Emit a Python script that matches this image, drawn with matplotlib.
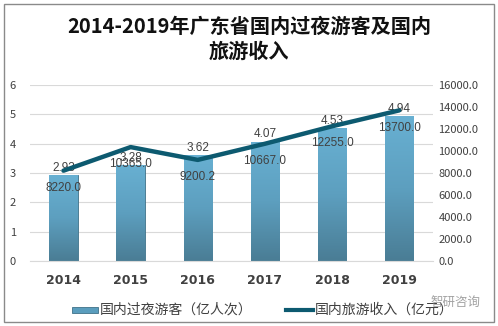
import numpy as np
import matplotlib.pyplot as plt
from matplotlib.patches import Rectangle
from matplotlib.colors import LinearSegmentedColormap

plt.rcParams['font.family'] = ['Noto Sans CJK SC', 'DejaVu Sans']

# 数据
years = ['2014', '2015', '2016', '2017', '2018', '2019']
visitors = [2.93, 3.28, 3.62, 4.07, 4.53, 4.94]            # 国内过夜游客（亿人次）
income = [8220.0, 10365.0, 9200.2, 10667.0, 12255.0, 13700.0]  # 国内旅游收入（亿元）
left_ticks = [0, 1, 2, 3, 4, 5, 6]
right_ticks = [0, 2000, 4000, 6000, 8000, 10000, 12000, 14000, 16000]

bar_color = '#5a9dbd'
line_color = '#0d5a70'
txt = '#404040'

fig = plt.figure(figsize=(4.98, 3.26), dpi=100)
fig.patches.append(Rectangle((4 / 498, 4 / 326), 490 / 498, 318 / 326, transform=fig.transFigure,
                             fill=False, edgecolor='#8a8a8a', linewidth=1.0))

ax = fig.add_axes([0.060, 0.199, 0.809, 0.540])
ax2 = ax.twinx()
ax.set_zorder(1)
ax2.set_zorder(2)
ax.patch.set_visible(False)

x = np.arange(len(years))
w = 0.42
bars = ax.bar(x, visitors, width=w, color=bar_color, edgecolor='#3f7289', linewidth=0.6, zorder=2)

# 渐变填充
cmap = LinearSegmentedColormap.from_list('g', ['#4a7d95', '#5d9fbf', '#68b0d2'])
grad = np.linspace(0, 1, 100).reshape(-1, 1)
for b in bars:
    x0, y0 = b.get_x(), b.get_y()
    im = ax.imshow(grad, cmap=cmap, origin='lower', aspect='auto',
                   extent=[x0, x0 + b.get_width(), y0, y0 + b.get_height()], zorder=2.1)
    im.set_clip_path(b)

ax.set_xlim(-0.5, len(years) - 0.5)
ax.set_ylim(0, 6)
ax.set_yticks(left_ticks)
ax.set_xticks(x)
ax.set_xticklabels(years, fontsize=9, fontweight='bold', color=txt, family='DejaVu Sans')
ax.tick_params(axis='x', length=0, pad=9)
ax.tick_params(axis='y', length=0, labelsize=8, colors=txt, pad=10)
ax.grid(axis='y', color='#d9d9d9', linewidth=0.8)
ax.set_axisbelow(True)
for s in ax.spines.values():
    s.set_visible(False)
ax.spines['bottom'].set_visible(True)
ax.spines['bottom'].set_color('#d9d9d9')

for xi, v in zip(x, visitors):
    ax.annotate(f'{v:.2f}', (xi, v), xytext=(0, 1), textcoords='offset points',
                ha='center', va='bottom', fontsize=8.5, color=txt, family='Liberation Sans', zorder=5)

ax2.plot(x, income, color=line_color, linewidth=3.2, solid_capstyle='round', zorder=3)
ax2.set_ylim(0, 16000)
ax2.set_yticks(right_ticks)
ax2.set_yticklabels([f'{t:.1f}' for t in right_ticks])
ax2.tick_params(axis='y', length=0, labelsize=8, colors=txt, pad=4)
for s in ax2.spines.values():
    s.set_visible(False)
for xi, v in zip(x, income):
    ax2.annotate(f'{v:.1f}', (xi, v), xytext=(0, -8), textcoords='offset points',
                 ha='center', va='top', fontsize=8.5, color=txt, family='Liberation Sans', zorder=5)

fig.text(0.5, 1 - 39 / 326, '2014-2019年广东省国内过夜游客及国内\n旅游收入', ha='center', va='center',
         fontsize=14.5, fontweight='bold', color='#111111', linespacing=1.25)

# 图例
fig.patches.append(Rectangle((72 / 498, 1 - 313 / 326), 26 / 498, 6 / 326, transform=fig.transFigure,
                             facecolor=bar_color, edgecolor='#3f7289', linewidth=0.6))
fig.text(100 / 498, 1 - 310 / 326, '国内过夜游客（亿人次）', ha='left', va='center', fontsize=10, color=txt)
fig.lines.append(plt.Line2D([286 / 498, 313 / 498], [1 - 310 / 326, 1 - 310 / 326],
                            transform=fig.transFigure, color=line_color, linewidth=3))
fig.text(315 / 498, 1 - 310 / 326, '国内旅游收入（亿元）', ha='left', va='center', fontsize=10, color=txt)
fig.text(455 / 498, 1 - 302 / 326, '智研咨询', ha='center', va='center', fontsize=9,
         color='#8a8a8a', alpha=0.8)

fig.savefig('out.png', dpi=100)
